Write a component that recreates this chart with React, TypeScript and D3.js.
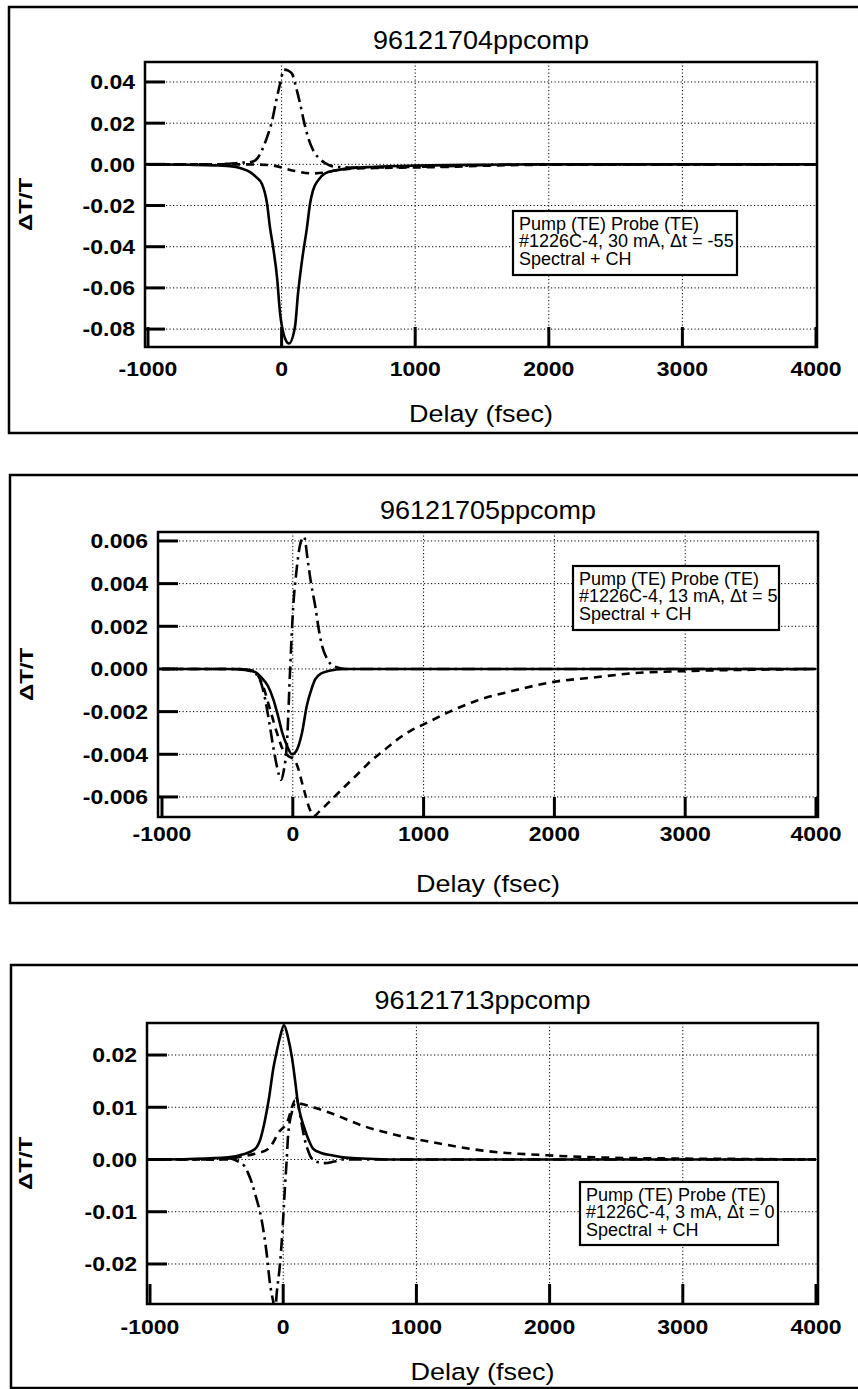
import React from 'react';
import * as d3 from 'd3';

type Pt = [number, number];

// ---------- data ----------
const xTickValues = [-1000, 0, 1000, 2000, 3000, 4000];
const xLabel = 'Delay (fsec)';
const yLabel = 'ΔT/T';

const p1Title = '96121704ppcomp';
const p1YTicks = [0.04, 0.02, 0, -0.02, -0.04, -0.06, -0.08];
const p1Legend = ['Pump (TE) Probe (TE)', '#1226C-4, 30 mA, Δt = -55', 'Spectral + CH'];
const p1Solid: Pt[] = [
  [-1000, 0], [-700, -0.0002], [-500, -0.0005], [-370, -0.001], [-300, -0.002], [-230, -0.004],
  [-190, -0.0062], [-147, -0.0095], [-109, -0.019], [-87, -0.0306], [-64, -0.04], [-34, -0.055],
  [-12, -0.072], [18, -0.083], [55, -0.087], [100, -0.079], [123, -0.0626], [153, -0.0466],
  [190, -0.0306], [213, -0.019], [235, -0.0126], [273, -0.0078], [325, -0.0044], [400, -0.003],
  [500, -0.002], [700, -0.0012], [1000, -0.0006], [1500, -0.0002], [2000, 0], [4000, 0],
];
const p1DashDot: Pt[] = [
  [-1000, 0], [-500, 0], [-400, 0.0003], [-300, 0.0008], [-222, 0.0012], [-180, 0.003],
  [-147, 0.0068], [-110, 0.013], [-72, 0.021], [-40, 0.031], [-12, 0.039], [18, 0.046],
  [50, 0.0455], [78, 0.044], [110, 0.037], [138, 0.0296], [170, 0.02], [198, 0.0131],
  [235, 0.007], [273, 0.0034], [330, 0.0005], [385, -0.001], [500, -0.0015], [700, -0.0015],
  [1000, -0.0012], [1300, -0.0008], [1600, -0.0002], [2000, 0], [4000, 0],
];
const p1Dashed: Pt[] = [
  [-1000, 0], [-300, 0], [-100, -0.0003], [0, -0.0015], [25, -0.002], [100, -0.0032],
  [228, -0.0044], [325, -0.004], [400, -0.003], [500, -0.0022], [700, -0.0018], [900, -0.0016],
  [1200, -0.0013], [1500, -0.0007], [2000, -0.0002], [4000, 0],
];

const p2Title = '96121705ppcomp';
const p2YTicks = [0.006, 0.004, 0.002, 0, -0.002, -0.004, -0.006];
const p2Legend = ['Pump (TE) Probe (TE)', '#1226C-4, 13 mA, Δt = 5', 'Spectral + CH'];
const p2Solid: Pt[] = [
  [-1000, 0], [-500, 0], [-365, -0.00005], [-289, -0.00014], [-240, -0.0004], [-190, -0.0008],
  [-150, -0.0014], [-113, -0.0022], [-80, -0.003], [-44, -0.0036], [-6, -0.004], [30, -0.0038],
  [70, -0.003], [108, -0.0017], [140, -0.001], [170, -0.0005], [220, -0.0002], [269, -0.0001],
  [400, 0], [4000, 0],
];
const p2DashDot: Pt[] = [
  [-1000, 0], [-400, 0], [-289, -0.0002], [-240, -0.0007], [-212, -0.0014], [-180, -0.0025],
  [-151, -0.0036], [-120, -0.0046], [-90, -0.0052], [-70, -0.0048], [-44, -0.0034], [-21, -0.0001],
  [1, 0.0027], [30, 0.0047], [55, 0.0058], [86, 0.0062], [116, 0.005], [140, 0.004],
  [170, 0.003], [200, 0.0018], [223, 0.0011], [260, 0.0005], [323, 0.0001], [400, 0], [4000, 0],
];
const p2Dashed: Pt[] = [
  [-1000, 0], [-400, 0], [-300, -0.0001], [-228, -0.0008], [-174, -0.0019], [-121, -0.003],
  [-75, -0.0038], [-30, -0.0041], [0, -0.0042], [32, -0.0045], [78, -0.0055], [131, -0.0066],
  [160, -0.0069], [200, -0.0067], [300, -0.0061], [400, -0.0055], [500, -0.0049], [600, -0.0043],
  [700, -0.0038], [800, -0.0033], [900, -0.0029], [1000, -0.0026], [1200, -0.002], [1400, -0.0015],
  [1700, -0.001], [2000, -0.0006], [2300, -0.0004], [2600, -0.0002], [3000, -0.0001],
  [3500, -0.00004], [4000, 0],
];

const p3Title = '96121713ppcomp';
const p3YTicks = [0.02, 0.01, 0, -0.01, -0.02];
const p3Legend = ['Pump (TE) Probe (TE)', '#1226C-4, 3 mA, Δt = 0', 'Spectral + CH'];
const p3Solid: Pt[] = [
  [-1000, 0], [-700, 0.0001], [-414, 0.0004], [-300, 0.001], [-212, 0.002], [-170, 0.004],
  [-137, 0.0075], [-105, 0.012], [-77, 0.017], [-50, 0.0205], [-24, 0.0234], [6, 0.0257],
  [35, 0.0235], [66, 0.0195], [90, 0.015], [111, 0.0107], [135, 0.008], [164, 0.0056],
  [195, 0.0035], [224, 0.0021], [280, 0.0013], [366, 0.0008], [450, 0.0004], [592, 0.0002],
  [800, 0], [4000, 0],
];
const p3DashDot: Pt[] = [
  [-1000, 0], [-500, 0], [-400, 0.0002], [-370, 0], [-330, -0.0005], [-290, -0.0013],
  [-262, -0.0027], [-235, -0.0045], [-212, -0.0065], [-161, -0.0117], [-124, -0.018],
  [-99, -0.0238], [-74, -0.0273], [-60, -0.029], [-49, -0.0257], [-24, -0.02], [-7, -0.0142],
  [13, -0.0054], [26, -0.0002], [38, 0.005], [76, 0.01], [101, 0.0117], [130, 0.008],
  [160, 0.004], [190, 0.0015], [214, 0.0002], [260, -0.0005], [314, -0.0007], [380, -0.0004],
  [450, 0], [4000, 0],
];
const p3Dashed: Pt[] = [
  [-1000, 0], [-400, 0], [-360, 0.0003], [-212, 0.0011], [-114, 0.002], [-70, 0.0035],
  [-39, 0.005], [36, 0.0075], [60, 0.0095], [89, 0.0113], [120, 0.0108], [164, 0.0105],
  [250, 0.0098], [366, 0.0088], [592, 0.0065], [862, 0.0046], [1125, 0.0033], [1500, 0.0017],
  [1980, 0.0008], [2378, 0.0004], [2880, 0.0002], [3500, 0.0001], [4000, 0],
];

// ---------- layout ----------
type Layout = {
  frame: { x: number; y: number; b: number };
  plot: { l: number; t: number; r: number; b: number };
  xr: [number, number];
  yd: [number, number];
  titleY: number;
  xTickY: number;
  delayY: number;
  yLabX: number;
  legend: { x: number; y: number; w: number; h: number };
  dec: number;
};

const layouts: Layout[] = [
  {
    frame: { x: 9, y: 7, b: 433 }, plot: { l: 145, t: 62, r: 817, b: 347 }, xr: [148, 816],
    yd: [-0.0887, 0.0497], titleY: 49, xTickY: 369, delayY: 422, yLabX: 32,
    legend: { x: 513, y: 211, w: 224, h: 64 }, dec: 2,
  },
  {
    frame: { x: 10, y: 475, b: 903 }, plot: { l: 158, t: 532, r: 818, b: 817 }, xr: [162, 816],
    yd: [-0.00694, 0.00642], titleY: 519, xTickY: 834, delayY: 892, yLabX: 33,
    legend: { x: 573, y: 566, w: 206, h: 64 }, dec: 3,
  },
  {
    frame: { x: 11, y: 965, b: 1388 }, plot: { l: 147, t: 1023, r: 818, b: 1304 }, xr: [150, 816],
    yd: [-0.02766, 0.02613], titleY: 1009, xTickY: 1327, delayY: 1380, yLabX: 32,
    legend: { x: 580, y: 1182, w: 198, h: 63 }, dec: 2,
  },
];

const FONT = '"Liberation Sans", Arial, Helvetica, sans-serif';

const styles = {
  solid: { dash: undefined as string | undefined, w: 2.6 },
  dashDot: { dash: '13,5,2.5,5', w: 2.6 },
  dashed: { dash: '8,6', w: 2.6 },
};

function Txt(props: {
  x: number; y: number; size: number; weight?: string | number; anchor?: string;
  sy?: number; rotate?: number; children: React.ReactNode;
}) {
  const { x, y, size, weight = 'normal', anchor = 'start', sy = 1, rotate = 0, children } = props;
  return (
    <g transform={`translate(${x},${y}) rotate(${rotate}) scale(1,${sy})`}>
      <text textAnchor={anchor as any} fontSize={size} fontWeight={weight} fontFamily={FONT} fill="#000">
        {children}
      </text>
    </g>
  );
}

function Panel(props: {
  id: number; L: Layout; title: string; yTicks: number[]; legend: string[];
  series: { data: Pt[]; kind: keyof typeof styles }[];
}) {
  const { id, L, title, yTicks, legend, series } = props;
  const { plot } = L;
  const xs = d3.scaleLinear().domain([-1000, 4000]).range(L.xr);
  const ys = d3.scaleLinear().domain(L.yd).range([plot.b, plot.t]);
  const line = d3
    .line<Pt>()
    .x((d) => xs(d[0]))
    .y((d) => ys(d[1]))
    .curve(d3.curveMonotoneX);
  const cx = (plot.l + plot.r) / 2;
  const cy = (plot.t + plot.b) / 2;
  const f = d3.format(`.${L.dec}f`);
  const fmt = (v: number) => f(v).replace('\u2212', '-');
  const tickSize = 23;
  const tickSy = 0.9;
  const capH = 0.716 * tickSize * tickSy;
  const clipId = `clip${id}`;
  return (
    <g>
      <defs>
        <clipPath id={clipId}>
          <rect x={plot.l} y={plot.t} width={plot.r - plot.l} height={plot.b - plot.t} />
        </clipPath>
      </defs>
      {/* outer frame */}
      <rect
        x={L.frame.x}
        y={L.frame.y}
        width={880 - L.frame.x}
        height={L.frame.b - L.frame.y}
        fill="none"
        stroke="#000"
        strokeWidth={2.5}
      />
      {/* grid */}
      <g stroke="#000" strokeWidth={1} strokeDasharray="1.2,2.3">
        {xTickValues
          .filter((v) => v > -1000 && v < 4000)
          .map((v) => (
            <line key={`gx${v}`} x1={xs(v)} x2={xs(v)} y1={plot.t} y2={plot.b} />
          ))}
        {yTicks.map((v) => (
          <line key={`gy${v}`} x1={plot.l} x2={plot.r} y1={ys(v)} y2={ys(v)} />
        ))}
      </g>
      {/* curves */}
      <g clipPath={`url(#${clipId})`} fill="none" stroke="#000" strokeLinejoin="round">
        {series.map((s, i) => (
          <path
            key={i}
            d={line(s.data) || ''}
            strokeWidth={styles[s.kind].w}
            strokeDasharray={styles[s.kind].dash}
          />
        ))}
      </g>
      {/* ticks */}
      <g stroke="#000" strokeWidth={3}>
        {yTicks.map((v) => (
          <line key={`ty${v}`} x1={plot.l} x2={plot.l + 20} y1={ys(v)} y2={ys(v)} />
        ))}
        {xTickValues.map((v) => (
          <line key={`tx${v}`} x1={xs(v)} x2={xs(v)} y1={plot.b} y2={plot.b - 20} />
        ))}
      </g>
      {/* plot frame */}
      <rect
        x={plot.l}
        y={plot.t}
        width={plot.r - plot.l}
        height={plot.b - plot.t}
        fill="none"
        stroke="#000"
        strokeWidth={2.5}
      />
      {/* tick labels */}
      {yTicks.map((v) => (
        <Txt key={`ly${v}`} x={plot.l - 10} y={ys(v) + capH / 2} size={tickSize} weight="bold" anchor="end" sy={tickSy}>
          {fmt(v)}
        </Txt>
      ))}
      {xTickValues.map((v) => (
        <Txt key={`lx${v}`} x={xs(v)} y={L.xTickY + capH / 2} size={tickSize} weight="bold" anchor="middle" sy={tickSy}>
          {String(v)}
        </Txt>
      ))}
      {/* title and axis labels */}
      <Txt x={cx} y={L.titleY} size={27} anchor="middle" sy={0.95}>
        {title}
      </Txt>
      <Txt x={cx} y={L.delayY} size={27} anchor="middle" sy={0.9}>
        {xLabel}
      </Txt>
      <Txt x={L.yLabX} y={cy} size={24} weight="bold" anchor="middle" rotate={-90} sy={0.8}>
        {yLabel}
      </Txt>
      {/* legend */}
      <rect
        x={L.legend.x}
        y={L.legend.y}
        width={L.legend.w}
        height={L.legend.h}
        fill="#fff"
        stroke="#000"
        strokeWidth={2.2}
      />
      {legend.map((t, i) => (
        <Txt key={`lg${i}`} x={L.legend.x + 6} y={L.legend.y + 18.5 + i * 17.5} size={18}>
          {t}
        </Txt>
      ))}
    </g>
  );
}

export default function App() {
  return (
    <svg
      width={858}
      height={1389}
      style={{ position: 'absolute', left: 0, top: 0, background: '#fff' }}
    >
      <rect x={0} y={0} width={858} height={1389} fill="#fff" />
      <Panel
        id={1}
        L={layouts[0]}
        title={p1Title}
        yTicks={p1YTicks}
        legend={p1Legend}
        series={[
          { data: p1Dashed, kind: 'dashed' },
          { data: p1DashDot, kind: 'dashDot' },
          { data: p1Solid, kind: 'solid' },
        ]}
      />
      <Panel
        id={2}
        L={layouts[1]}
        title={p2Title}
        yTicks={p2YTicks}
        legend={p2Legend}
        series={[
          { data: p2Dashed, kind: 'dashed' },
          { data: p2DashDot, kind: 'dashDot' },
          { data: p2Solid, kind: 'solid' },
        ]}
      />
      <Panel
        id={3}
        L={layouts[2]}
        title={p3Title}
        yTicks={p3YTicks}
        legend={p3Legend}
        series={[
          { data: p3Dashed, kind: 'dashed' },
          { data: p3DashDot, kind: 'dashDot' },
          { data: p3Solid, kind: 'solid' },
        ]}
      />
    </svg>
  );
}
